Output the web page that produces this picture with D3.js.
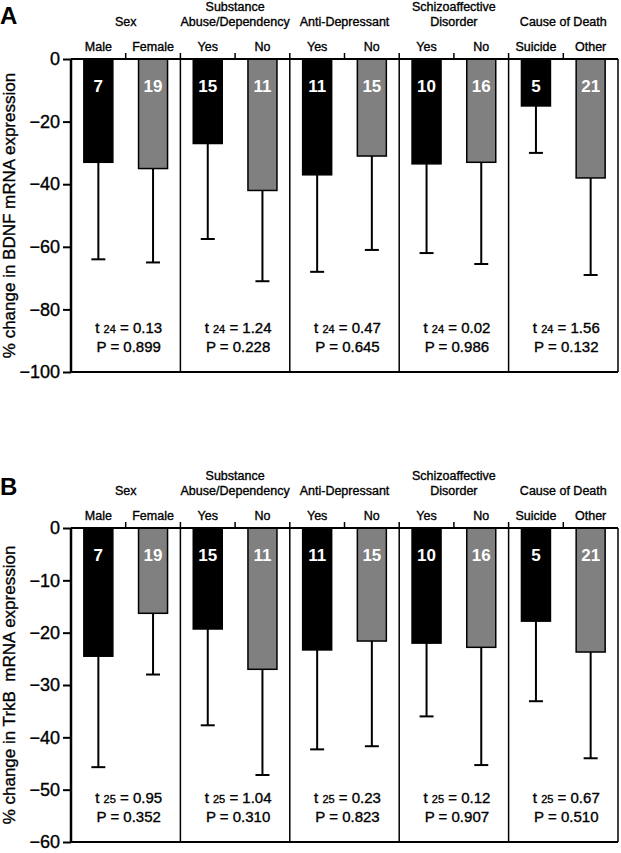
<!DOCTYPE html>
<meta charset="utf-8">
<style>
body{margin:0;background:#fff;font-family:"Liberation Sans",Arial,sans-serif;}
text.ink{stroke:#000;stroke-width:0.35px;}
</style>
<body>
<div id="container"></div>
<script src="https://d3js.org/d3.v7.min.js"></script>
<script>

var width = 621,
    height = 853;

// groups and subgroups
var groupLabels = [["Sex"], ["Substance", "Abuse/Dependency"], ["Anti-Depressant"], ["Schizoaffective", "Disorder"], ["Cause of Death"]];
var subLabels = [["Male", "Female"], ["Yes", "No"], ["Yes", "No"], ["Yes", "No"], ["Suicide", "Other"]];
var counts = [7, 19, 15, 11, 11, 15, 10, 16, 5, 21];

// panel A : BDNF
var bdnfMean = [-33, -35, -27, -42, -37, -31, -33.5, -33, -15, -38];
var bdnfErr  = [-64, -65, -57.5, -71, -68, -61, -62, -65.5, -30, -69];
var bdnfTicks = [0, -20, -40, -60, -80, -100];
var bdnfT = ["0.13", "1.24", "0.47", "0.02", "1.56"];
var bdnfP = ["0.899", "0.228", "0.645", "0.986", "0.132"];

// panel B : TrkB
var trkbMean = [-24.5, -16.3, -19.3, -27, -23.3, -21.6, -22, -22.8, -17.8, -23.7];
var trkbErr  = [-45.7, -28, -37.7, -47.2, -42.3, -41.7, -36, -45.3, -33.1, -44];
var trkbTicks = [0, -10, -20, -30, -40, -50, -60];
var trkbT = ["0.95", "1.04", "0.23", "0.12", "0.67"];
var trkbP = ["0.352", "0.310", "0.823", "0.907", "0.510"];

var svg = d3.select("#container").append("svg")
    .attr("width", width)
    .attr("height", height);

function drawPanel(p) {
  var g = svg.append("g");
  var left = 71, right = 618;

  var y = d3.scaleLinear()
      .domain([p.ticks[p.ticks.length - 1], 0])
      .range([p.bottom, p.top]);

  var x = d3.scaleBand()
      .domain(d3.range(5))
      .range([left, right]);

  var xs = d3.scaleBand()
      .domain([0, 1])
      .range([0, x.bandwidth()]);

  var barW = 29;

  var bars = d3.range(10).map(function(i) {
    var gi = Math.floor(i / 2), si = i % 2;
    return {
      cx: x(gi) + xs(si) + xs.bandwidth() / 2,
      mean: p.mean[i],
      err: p.err[i],
      n: counts[i],
      fill: si == 0 ? "#000" : "#808080"
    };
  });

  // bars
  g.selectAll(".bar").data(bars).enter().append("rect")
      .attr("x", function(d) { return d.cx - barW / 2; })
      .attr("y", y(0))
      .attr("width", barW)
      .attr("height", function(d) { return y(d.mean) - y(0); })
      .style("fill", function(d) { return d.fill; })
      .style("stroke", "#000")
      .style("stroke-width", 1.5);

  // error bars (lower half only)
  g.selectAll(".err").data(bars).enter().append("line")
      .attr("x1", function(d) { return d.cx; })
      .attr("x2", function(d) { return d.cx; })
      .attr("y1", function(d) { return y(d.mean); })
      .attr("y2", function(d) { return y(d.err); })
      .style("stroke", "#000")
      .style("stroke-width", 2);

  g.selectAll(".cap").data(bars).enter().append("line")
      .attr("x1", function(d) { return d.cx - 7; })
      .attr("x2", function(d) { return d.cx + 7; })
      .attr("y1", function(d) { return y(d.err); })
      .attr("y2", function(d) { return y(d.err); })
      .style("stroke", "#000")
      .style("stroke-width", 2);

  // counts in bars
  g.selectAll(".n").data(bars).enter().append("text")
      .attr("x", function(d) { return d.cx; })
      .attr("y", y(0) + 33)
      .attr("text-anchor", "middle")
      .style("font-size", "17px")
      .style("font-weight", "bold")
      .style("fill", "#fff")
      .text(function(d) { return d.n; });

  // group dividers
  g.selectAll(".div").data(d3.range(1, 6)).enter().append("line")
      .attr("x1", function(d) { return d < 5 ? x(d) : right; })
      .attr("x2", function(d) { return d < 5 ? x(d) : right; })
      .attr("y1", y(0))
      .attr("y2", p.bottom)
      .style("stroke", "#000")
      .style("stroke-width", 1.5);

  // top line with small ticks
  g.append("line")
      .attr("x1", left).attr("x2", right)
      .attr("y1", y(0)).attr("y2", y(0))
      .style("stroke", "#000").style("stroke-width", 2);

  g.selectAll(".tt").data(d3.range(1, 10)).enter().append("line")
      .attr("x1", function(d) { return left + d * x.bandwidth() / 2; })
      .attr("x2", function(d) { return left + d * x.bandwidth() / 2; })
      .attr("y1", y(0))
      .attr("y2", y(0) - 6)
      .style("stroke", "#000").style("stroke-width", 1.5);

  // bottom line
  g.append("line")
      .attr("x1", left).attr("x2", right)
      .attr("y1", p.bottom).attr("y2", p.bottom)
      .style("stroke", "#000").style("stroke-width", 2);

  // y axis
  var ax = g.append("g")
      .attr("transform", "translate(" + left + ",0)")
      .call(d3.axisLeft(y).tickValues(p.ticks).tickSize(8).tickPadding(3).tickFormat(d3.format("d")));
  ax.select(".domain").remove();
  ax.append("line").attr("y1", p.top).attr("y2", p.bottom + 1)
      .style("stroke", "#000").style("stroke-width", 2.5);
  ax.selectAll(".tick line").style("stroke-width", 2);
  ax.selectAll(".tick text")
      .attr("class", "ink")
      .style("font-size", "18px")
      .style("font-family", "Liberation Sans, Arial, sans-serif")
      .style("fill", "#000");

  // subgroup labels
  g.selectAll(".sub").data(bars).enter().append("text")
      .attr("class", "ink")
      .attr("x", function(d) { return d.cx; })
      .attr("y", y(0) - 8)
      .attr("text-anchor", "middle")
      .style("font-size", "12.5px")
      .text(function(d, i) { return subLabels[Math.floor(i / 2)][i % 2]; });

  // group labels
  groupLabels.forEach(function(lines, gi) {
    var t = g.append("text")
        .attr("class", "ink")
        .attr("x", x(gi) + x.bandwidth() / 2)
        .attr("y", y(0) - 33 - (lines.length - 1) * 15)
        .attr("text-anchor", "middle")
        .style("font-size", "12.5px");
    lines.forEach(function(s, li) {
      t.append("tspan")
          .attr("x", x(gi) + x.bandwidth() / 2)
          .attr("dy", li == 0 ? 0 : 15)
          .text(s);
    });
  });

  // statistics
  d3.range(5).forEach(function(gi) {
    var cx = x(gi) + x.bandwidth() / 2 + 3;
    var t = g.append("text")
        .attr("class", "ink")
        .attr("x", cx)
        .attr("y", p.bottom - 39)
        .attr("text-anchor", "middle")
        .style("font-size", "15px");
    t.append("tspan").text("t ");
    t.append("tspan").style("font-size", "11px").text(p.df);
    t.append("tspan").text(" = " + p.t[gi]);
    g.append("text")
        .attr("class", "ink")
        .attr("x", cx)
        .attr("y", p.bottom - 20)
        .attr("text-anchor", "middle")
        .style("font-size", "15px")
        .text("P = " + p.p[gi]);
  });

  // y title
  g.append("text")
      .attr("class", "ink")
      .attr("transform", "rotate(-90)")
      .attr("x", -(p.top + p.bottom) / 2)
      .attr("y", 15)
      .attr("text-anchor", "middle")
      .style("font-size", "17px")
      .style("white-space", "pre")
      .text(p.title);

  // panel letter
  g.append("text")
      .attr("x", 0)
      .attr("y", p.letterY)
      .style("font-size", "24px")
      .style("font-weight", "bold")
      .text(p.letter);
}

drawPanel({
  top: 59, bottom: 372, ticks: bdnfTicks,
  mean: bdnfMean, err: bdnfErr, t: bdnfT, p: bdnfP, df: "24",
  title: "% change in BDNF mRNA expression", letter: "A", letterY: 24
});

drawPanel({
  top: 528, bottom: 842, ticks: trkbTicks,
  mean: trkbMean, err: trkbErr, t: trkbT, p: trkbP, df: "25",
  title: "% change in TrkB  mRNA expression", letter: "B", letterY: 495
});

</script>
</body>
</html>
